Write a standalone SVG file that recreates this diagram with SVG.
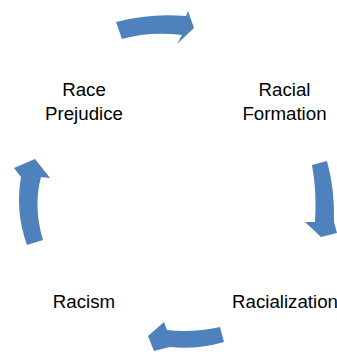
<svg xmlns="http://www.w3.org/2000/svg" width="337" height="352" viewBox="0 0 337 352">
<style>
.arrow{fill:#4F81BD;stroke:none}
.lbl{font-family:"Liberation Sans",Arial,sans-serif;font-size:18.7px;fill:#000;text-anchor:middle}
</style>
<rect width="337" height="352" fill="#fff"/>
<g id="connectors">
<path class="arrow" d="M116,22 Q150,13 186,16 L188,11 L194,28 L177,44 L182,35 Q150,31 122,39 Z"/>
<path class="arrow" d="M312,165 L327,161 Q335,190 334,222 L337,233 L321,237 L305,222 L315,222 Q317,192 312,165 Z"/>
<path class="arrow" d="M220,327 L224,342 Q197,350 170,347 L154,351 L148,336 L164,322 L167,330 Q193,333 220,327 Z"/>
<path class="arrow" d="M43,240 L27,245 Q15,212 21,177 L14,168 L35,159 L50,178 L41,177 Q33,207 43,240 Z"/>
</g>
<g id="race-prejudice"><text class="lbl" x="84" y="96">Race</text><text class="lbl" x="84" y="119.5">Prejudice</text></g>
<g id="racial-formation"><text class="lbl" x="284.5" y="96">Racial</text><text class="lbl" x="284.5" y="119.5">Formation</text></g>
<g id="racialization"><text class="lbl" x="285" y="307.5">Racialization</text></g>
<g id="racism"><text class="lbl" x="84" y="307.5">Racism</text></g>
</svg>
